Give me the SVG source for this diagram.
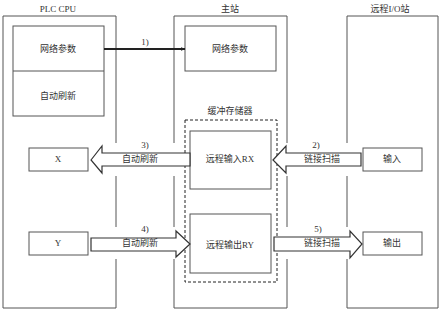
<svg xmlns="http://www.w3.org/2000/svg" width="442" height="315" viewBox="0 0 442 315">
<defs>
<style>
text{font-family:"Liberation Serif","Noto Sans CJK SC",serif;font-size:9px;fill:#333;text-anchor:middle;dominant-baseline:middle}
.frame{fill:none;stroke:#555;stroke-width:1}
.box{fill:#fff;stroke:#555;stroke-width:1}
.dash{fill:none;stroke:#222;stroke-width:1;stroke-dasharray:3,2}
.block{fill:#fff;stroke:#333;stroke-width:1.2;stroke-linejoin:miter}
</style>
<marker id="ah" viewBox="0 0 10 10" refX="9" refY="5" markerWidth="5" markerHeight="5" orient="auto" markerUnits="userSpaceOnUse">
<path d="M0,1 L10,5 L0,9 z" fill="#222"/>
</marker>
</defs>
<rect width="442" height="315" fill="#fff"/>

<g id="plc">
<text x="58" y="10">PLC CPU</text>
<path class="frame" d="M116,143 V16 H3 V308 H116 V259 M116,227 V176"/>
<rect class="box" x="13" y="26" width="91" height="90"/>
<line x1="13" y1="71" x2="104" y2="71" stroke="#555"/>
<text x="58" y="50">网络参数</text>
<text x="58" y="97">自动刷新</text>
</g>
<g id="plc-x">
<rect class="box" x="29" y="148" width="59" height="23"/>
<text x="58" y="160">X</text>
</g>
<g id="plc-y">
<rect class="box" x="29" y="232" width="59" height="23"/>
<text x="58" y="244">Y</text>
</g>

<g id="master">
<text x="230" y="10">主站</text>
<path class="frame" d="M174,143 V16 H287 V143 M287,176 V227 M287,259 V308 H174 V259 M174,227 V176"/>
<rect class="box" x="185" y="26" width="91" height="45"/>
<text x="230" y="50">网络参数</text>
<text x="230" y="112">缓冲存储器</text>
<rect class="dash" x="185" y="120" width="92" height="162"/>
</g>
<g id="rx">
<rect class="box" x="190" y="131" width="81" height="58"/>
<text x="230" y="160">远程输入RX</text>
</g>
<g id="ry">
<rect class="box" x="190" y="214" width="81" height="59"/>
<text x="230" y="246">远程输出RY</text>
</g>

<g id="remote">
<text x="390" y="10">远程I/O站</text>
<path class="frame" d="M347,143 V16 H438 V308 H347 V259 M347,227 V176"/>
</g>
<g id="input">
<rect class="box" x="363" y="148" width="59" height="23"/>
<text x="392" y="160">输入</text>
</g>
<g id="output">
<rect class="box" x="363" y="232" width="59" height="23"/>
<text x="392" y="244">输出</text>
</g>

<g id="connectors">
<line x1="104" y1="49" x2="185" y2="49" stroke="#222" stroke-width="2" marker-end="url(#ah)"/>
<text x="145" y="43">1)</text>
<polygon class="block" points="91,160 102,146 102,153 190,153 190,166 102,166 102,173"/>
<text x="145" y="146">3)</text>
<text x="140" y="160">自动刷新</text>
<polygon class="block" points="273,160 286,146 286,153 361,153 361,166 286,166 286,173"/>
<text x="316" y="146">2)</text>
<text x="322" y="160">链接扫描</text>
<polygon class="block" points="91,238 176,238 176,231 190,244 176,257 176,251 91,251"/>
<text x="145" y="230">4)</text>
<text x="140" y="244">自动刷新</text>
<polygon class="block" points="274,237 350,237 350,231 362,244 350,258 350,251 274,251"/>
<text x="318" y="230">5)</text>
<text x="322" y="244">链接扫描</text>
</g>
</svg>
